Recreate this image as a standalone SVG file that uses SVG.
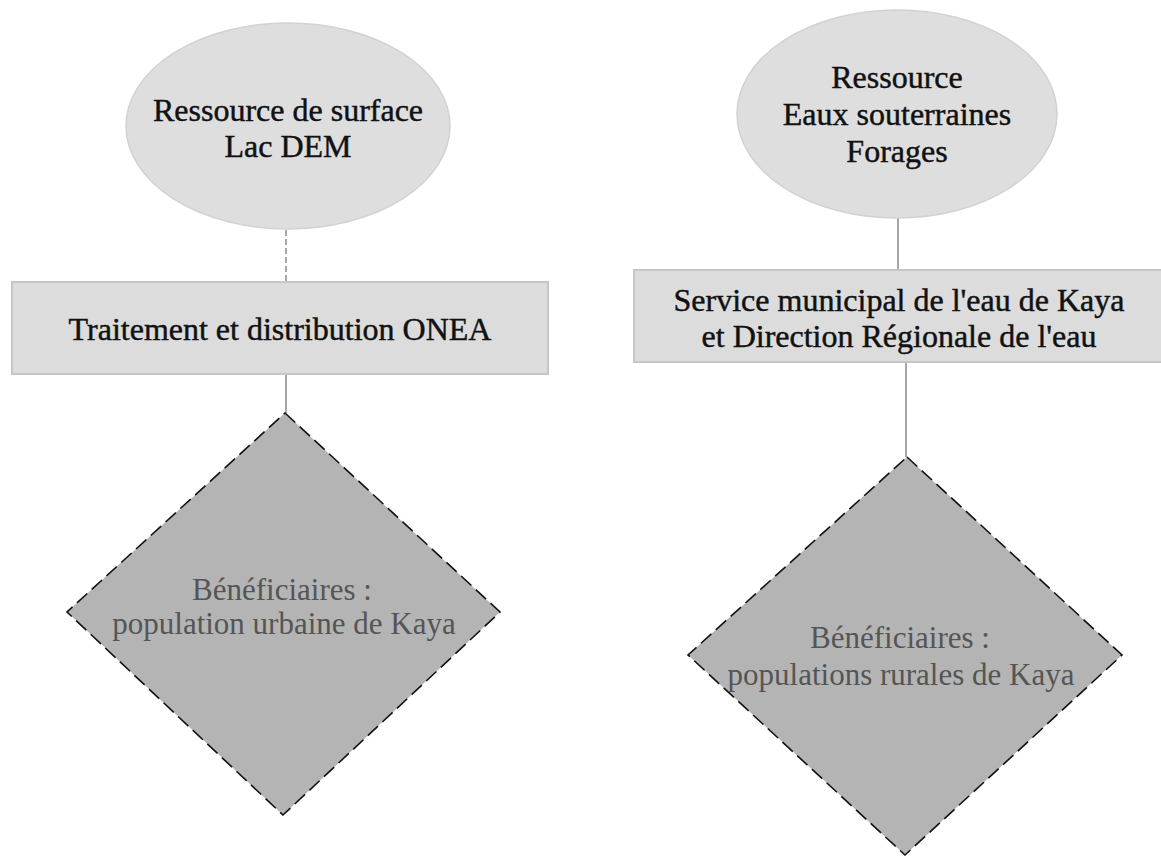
<svg xmlns="http://www.w3.org/2000/svg" width="1161" height="857" viewBox="0 0 1161 857">
<style>
.bg{fill:#ffffff}
.ell{fill:#dedede;stroke:#d2d2d2;stroke-width:1.5}
.box{fill:#dcdcdc;stroke:#c6c6c6;stroke-width:2}
.dia{fill:#b4b4b4;stroke:#111;stroke-width:1.6;stroke-dasharray:14 6}
.conn{stroke:#777;stroke-width:1.3;fill:none}
.dash{stroke-dasharray:6 3}
text{font-family:'Liberation Serif','Times New Roman','DejaVu Serif','Noto Serif',serif;text-anchor:middle}
.t{font-size:32px;fill:#111;stroke:#111;stroke-width:0.45}
.td{font-size:31px;fill:#555}
</style>
<rect class="bg" x="0" y="0" width="1161" height="857"/>
<g id="connectors">
<line class="conn dash" x1="286" y1="230" x2="286" y2="282"/>
<line class="conn" x1="286" y1="374" x2="286" y2="413"/>
<line class="conn" x1="898" y1="217" x2="898" y2="270"/>
<line class="conn" x1="906" y1="362" x2="906" y2="457"/>
</g>
<g id="node-surface">
<ellipse class="ell" cx="288" cy="126" rx="162" ry="103"/>
<text class="t" x="288" y="121" font-family="Liberation Serif, serif">Ressource de surface</text>
<text class="t" x="288" y="157" font-family="Liberation Serif, serif">Lac DEM</text>
</g>
<g id="node-souterraine">
<ellipse class="ell" cx="897" cy="114" rx="160" ry="104"/>
<text class="t" x="897" y="88">Ressource</text>
<text class="t" x="897" y="125">Eaux souterraines</text>
<text class="t" x="897" y="162">Forages</text>
</g>
<g id="node-onea">
<rect class="box" x="12" y="282" width="536" height="92"/>
<text class="t" x="280" y="340">Traitement et distribution ONEA</text>
</g>
<g id="node-service">
<rect class="box" x="634" y="270" width="532" height="92"/>
<text class="t" x="899" y="311">Service municipal de l'eau de Kaya</text>
<text class="t" x="899" y="347">et Direction Régionale de l'eau</text>
</g>
<g id="node-urbaine">
<polygon class="dia" points="285,413 500,612 283,815 67,612"/>
<text class="td" x="282" y="600">Bénéficiaires :</text>
<text class="td" x="284" y="634">population urbaine de Kaya</text>
</g>
<g id="node-rurale">
<polygon class="dia" points="907,457 1122,655 905,855 688,655"/>
<text class="td" x="900" y="648">Bénéficiaires :</text>
<text class="td" x="901" y="685">populations rurales de Kaya</text>
</g>
</svg>
